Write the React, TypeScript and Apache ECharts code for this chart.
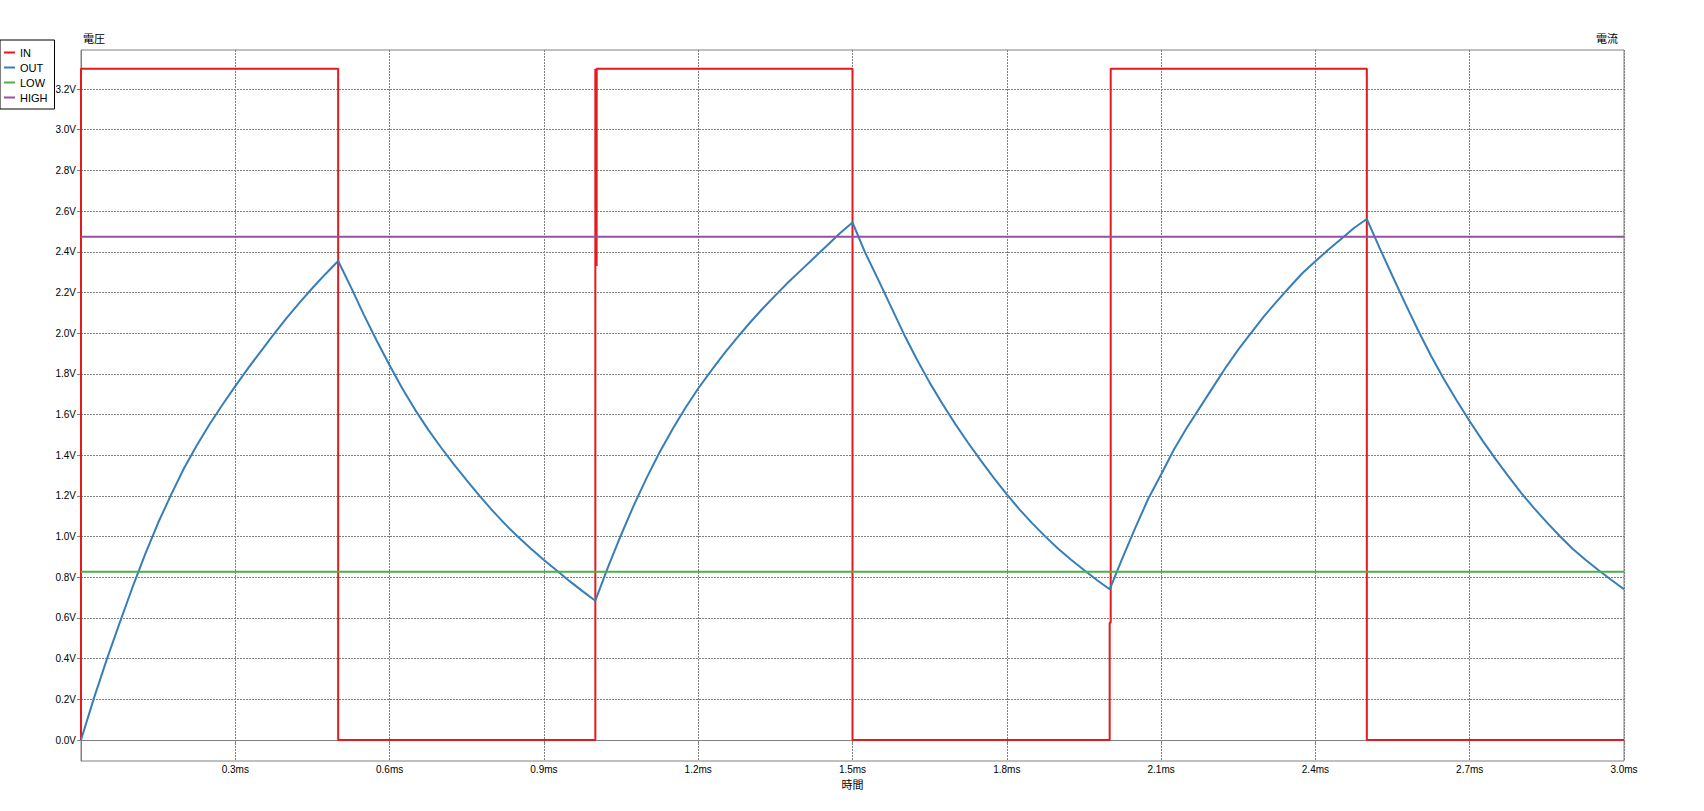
import React, { useEffect, useRef } from "react";
import * as echarts from "echarts";

// ---- data ----
const seriesNames = ["IN", "OUT", "LOW", "HIGH"];

const outTimes = [
  0, 0.025, 0.05, 0.075, 0.1, 0.125, 0.15, 0.175, 0.2, 0.225, 0.25, 0.275, 0.3, 0.325, 0.35, 0.375, 0.4, 0.425, 0.45, 0.475, 0.5,
  0.525, 0.55, 0.575, 0.6, 0.625, 0.65, 0.675, 0.7, 0.725, 0.75, 0.775, 0.8, 0.825, 0.85, 0.875, 0.9, 0.925, 0.95, 0.975, 1.0,
  1.025, 1.05, 1.075, 1.1, 1.125, 1.15, 1.175, 1.2, 1.225, 1.25, 1.275, 1.3, 1.325, 1.35, 1.375, 1.4, 1.425, 1.45, 1.475, 1.5,
  1.525, 1.55, 1.575, 1.6, 1.625, 1.65, 1.675, 1.7, 1.725, 1.75, 1.775, 1.8, 1.825, 1.85, 1.875, 1.9, 1.925, 1.95, 1.975, 2.0,
  2.025, 2.05, 2.075, 2.1, 2.125, 2.15, 2.175, 2.2, 2.225, 2.25, 2.275, 2.3, 2.325, 2.35, 2.375, 2.4, 2.425, 2.45, 2.475, 2.5,
  2.525, 2.55, 2.575, 2.6, 2.625, 2.65, 2.675, 2.7, 2.725, 2.75, 2.775, 2.8, 2.825, 2.85, 2.875, 2.9, 2.925, 2.95, 2.975, 3.0,
];
const outValues = [
  0, 0.205, 0.395, 0.575, 0.75, 0.915, 1.068, 1.205, 1.335, 1.448, 1.552, 1.648, 1.74, 1.828, 1.912, 1.995, 2.075, 2.15, 2.222, 2.29, 2.355,
  2.225, 2.09, 1.963, 1.842, 1.727, 1.622, 1.526, 1.438, 1.355, 1.277, 1.2, 1.128, 1.06, 0.998, 0.94, 0.885, 0.833, 0.781, 0.732, 0.685,
  0.852, 1.008, 1.155, 1.29, 1.415, 1.528, 1.632, 1.728, 1.815, 1.898, 1.976, 2.05, 2.12, 2.186, 2.25, 2.31, 2.37, 2.43, 2.49, 2.544,
  2.394, 2.263, 2.129, 1.995, 1.872, 1.757, 1.652, 1.553, 1.46, 1.372, 1.288, 1.208, 1.133, 1.064, 1.0, 0.94, 0.886, 0.836, 0.787, 0.741,
  0.896, 1.044, 1.186, 1.305, 1.428, 1.535, 1.633, 1.731, 1.829, 1.919, 2.001, 2.083, 2.156, 2.227, 2.296, 2.353, 2.41, 2.463, 2.517, 2.561,
  2.418, 2.28, 2.144, 2.012, 1.888, 1.774, 1.668, 1.567, 1.472, 1.382, 1.297, 1.215, 1.14, 1.07, 1.003, 0.94, 0.886, 0.836, 0.788, 0.741,
];

const inTimes = [0, 0, 0.5, 0.5, 1.0, 1.0, 1.0025, 1.0027, 1.5, 1.5, 2.0, 2.0, 2.002, 2.002, 2.5, 2.5, 3.0];
const inValues = [0, 3.3, 3.3, 0, 0, 3.3, 2.33, 3.3, 3.3, 0, 0, 0.577, 0.577, 3.3, 3.3, 0, 0];

const levelTimes = [0, 3.0];
const lowLevel = 0.827;
const highLevel = 2.474;

const yTickValues = [0, 0.2, 0.4, 0.6, 0.8, 1.0, 1.2, 1.4, 1.6, 1.8, 2.0, 2.2, 2.4, 2.6, 2.8, 3.0, 3.2];
const xTickValues = [0, 0.3, 0.6, 0.9, 1.2, 1.5, 1.8, 2.1, 2.4, 2.7, 3.0];
const yMin = -0.103;
const yMax = 3.392;
const xMin = 0;
const xMax = 3.0;

const yAxisTitle = "電圧";
const y2AxisTitle = "電流";
const xAxisTitle = "時間";

const colors = ["#e41a1c", "#377eb8", "#4daf4a", "#984ea3"];

const LABEL_FONT = "'Liberation Sans', Arial, sans-serif";
const CJK_FONT = "'Noto Sans CJK JP', sans-serif";

function zip(xs: number[], ys: number[]) {
  return xs.map((x, i) => [x, ys[i]]);
}

export default function App() {
  const ref = useRef<HTMLDivElement>(null);
  useEffect(() => {
    if (!ref.current) return;
    const chart = echarts.init(ref.current, null, { renderer: "svg" });
    const gridLine = { show: true, lineStyle: { color: "#808080", width: 1, type: [2, 1] as any } };
    const option: any = {
      animation: false,
      backgroundColor: "#fff",
      color: colors,
      grid: {
        left: 81,
        right: 80,
        top: 50,
        bottom: 50,
        show: true,
        borderColor: "#808080",
        borderWidth: 1,
        backgroundColor: "transparent",
      },
      legend: {
        orient: "vertical",
        left: 0,
        top: 40,
        data: seriesNames,
        icon: "rect",
        itemWidth: 11,
        itemHeight: 2,
        itemGap: 2,
        padding: [6, 7, 5, 4],
        borderColor: "#000",
        borderWidth: 1,
        backgroundColor: "#fff",
        textStyle: { fontFamily: LABEL_FONT, fontSize: 11, lineHeight: 13, color: "#000" },
      },
      xAxis: {
        type: "value",
        min: xMin,
        max: xMax,
        name: xAxisTitle,
        nameLocation: "middle",
        nameGap: 17,
        nameTextStyle: { fontFamily: CJK_FONT, fontSize: 11, color: "#000" },
        axisLine: { show: true, lineStyle: { color: "#808080", width: 1 } },
        axisTick: { show: true, length: 3, lineStyle: { color: "#808080" }, customValues: xTickValues },
        axisLabel: {
          fontFamily: LABEL_FONT,
          fontSize: 10,
          color: "#000",
          margin: 3,
          customValues: xTickValues,
          formatter: (v: number) => (v === 0 ? "" : v.toFixed(1) + "ms"),
        },
        splitLine: gridLine,
      },
      yAxis: {
        type: "value",
        min: yMin,
        max: yMax,
        axisLine: { show: true, lineStyle: { color: "#808080", width: 1 } },
        axisTick: { show: true, length: 4, lineStyle: { color: "#808080" }, customValues: yTickValues },
        axisLabel: {
          fontFamily: LABEL_FONT,
          fontSize: 10,
          color: "#000",
          margin: 5,
          customValues: yTickValues,
          formatter: (v: number) => v.toFixed(1) + "V",
        },
        splitLine: gridLine,
      },
      graphic: [
        {
          type: "text",
          left: 83,
          top: 32,
          style: { text: yAxisTitle, font: `11px ${CJK_FONT}`, fill: "#000" },
        },
        {
          type: "text",
          right: 86,
          top: 32,
          style: { text: y2AxisTitle, font: `11px ${CJK_FONT}`, fill: "#000" },
        },
      ],
      series: [
        {
          name: seriesNames[0],
          type: "line",
          data: zip(inTimes, inValues),
          showSymbol: false,
          symbol: "none",
          lineStyle: { width: 2, color: colors[0] },
        },
        {
          name: seriesNames[1],
          type: "line",
          data: zip(outTimes, outValues),
          showSymbol: false,
          symbol: "none",
          lineStyle: { width: 2, color: colors[1] },
        },
        {
          name: seriesNames[2],
          type: "line",
          data: levelTimes.map((t) => [t, lowLevel]),
          showSymbol: false,
          symbol: "none",
          lineStyle: { width: 2, color: colors[2] },
        },
        {
          name: seriesNames[3],
          type: "line",
          data: levelTimes.map((t) => [t, highLevel]),
          showSymbol: false,
          symbol: "none",
          lineStyle: { width: 2, color: colors[3] },
        },
      ],
    };
    chart.setOption(option);
    return () => chart.dispose();
  }, []);
  return (
    <div
      ref={ref}
      style={{ position: "fixed", left: 0, top: 0, width: 1704, height: 811, background: "#fff" }}
    />
  );
}
